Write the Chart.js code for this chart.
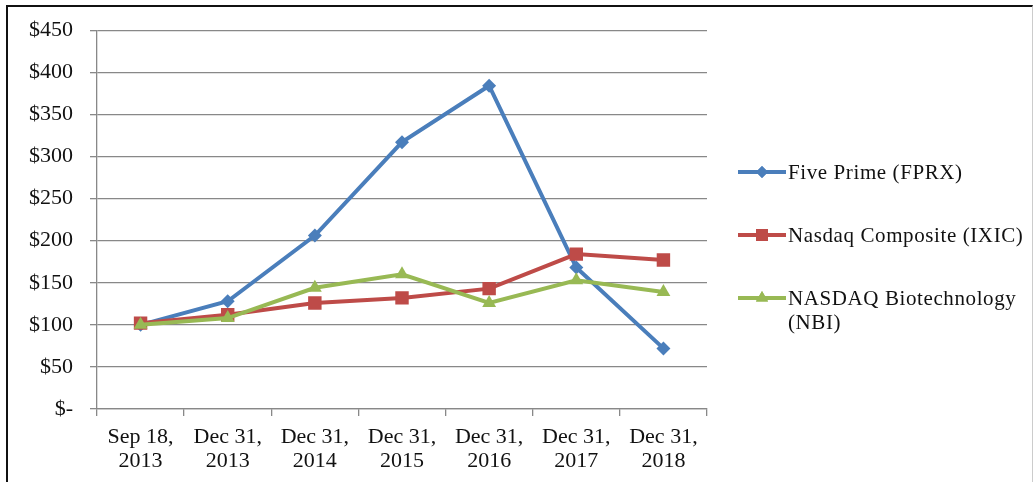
<!DOCTYPE html>
<html>
<head>
<meta charset="utf-8">
<script src="https://cdn.jsdelivr.net/npm/chart.js@4.4.1/dist/chart.umd.min.js"></script>
<style>
  html, body { margin: 0; padding: 0; background: #fff; }
  #wrap { position: relative; width: 1035px; height: 482px; overflow: hidden; }
  #frame { position: absolute; left: 6px; top: 5px; width: 1027px; height: 490px;
           border-left: 2px solid #111; border-top: 2px solid #111; border-right: 1px solid #ccc; box-sizing: border-box; }
  canvas { position: absolute; left: 0; top: 0; }
  .leg { position: absolute; left: 738px; font-family: "Liberation Serif", "Times New Roman", serif;
         font-size: 21px; color: #111; line-height: 24px; letter-spacing: 0.6px; }
  .leg .sw { position: absolute; left: 0; top: 12px; width: 48px; height: 0; }
  .leg .txt { position: absolute; left: 50px; top: 0; white-space: nowrap; }
</style>
</head>
<body>
<div id="wrap">
  <div id="frame"></div>
  <canvas id="c" width="1035" height="482"></canvas>
  <div id="legend"></div>
</div>
<script>
const categories = [["Sep 18,", "2013"], ["Dec 31,", "2013"], ["Dec 31,", "2014"], ["Dec 31,", "2015"], ["Dec 31,", "2016"], ["Dec 31,", "2017"], ["Dec 31,", "2018"]];
const seriesNames = ["Five Prime (FPRX)", "Nasdaq Composite (IXIC)", "NASDAQ Biotechnology (NBI)"];
const fprx = [100, 128, 206, 317, 384, 168, 72];
const ixic = [102, 112, 126, 132, 143, 184, 177];
const nbi  = [100, 108, 144, 160, 126, 153, 139];
const yTicks = [0, 50, 100, 150, 200, 250, 300, 350, 400, 450];

const colors = ["#4A7EBB", "#BE4B48", "#98B954"];
const styles = ["rectRot", "rect", "triangle"];
const radii = [7, 9.5, 8];

const datasets = [fprx, ixic, nbi].map((d, i) => ({
  label: seriesNames[i],
  data: d,
  order: 3 - i,
  borderColor: colors[i],
  backgroundColor: colors[i],
  borderWidth: 4,
  pointStyle: styles[i],
  pointRadius: radii[i],
  pointBorderWidth: 0,
  pointBackgroundColor: colors[i],
  pointBorderColor: colors[i],
  tension: 0,
  fill: false
}));

const fontFam = '"Liberation Serif", "Times New Roman", serif';

new Chart(document.getElementById('c'), {
  type: 'line',
  data: { labels: categories, datasets },
  options: {
    responsive: false,
    animation: false,
    devicePixelRatio: 1,
    layout: { padding: { left: 0, top: 30, right: 328, bottom: 0 } },
    plugins: { legend: { display: false }, tooltip: { enabled: false } },
    scales: {
      x: {
        type: 'category',
        offset: true,
        grid: { offset: true, drawOnChartArea: false, drawTicks: true, tickLength: 7, color: '#888', lineWidth: 1.3 },
        border: { color: '#888', width: 1.3 },
        ticks: { color: '#111', font: { family: fontFam, size: 22, lineHeight: 1.1 }, padding: 9, maxRotation: 0, autoSkip: false },
        afterFit: s => { s.height = 482 - 409; }
      },
      y: {
        min: 0, max: 450,
        afterBuildTicks: s => { s.ticks = yTicks.map(v => ({ value: v })); },
        grid: { color: '#888', lineWidth: 1.3, tickLength: 7 },
        border: { color: '#888', width: 1.3 },
        ticks: {
          color: '#111', font: { family: fontFam, size: 22 }, padding: 17,
          callback: v => v === 0 ? '$-' : '$' + v
        },
        afterFit: s => { s.width = 97; }
      }
    }
  }
});

// HTML legend
const legTops = [160, 223, 286];
const leg = document.getElementById('legend');
seriesNames.forEach((n, i) => {
  const d = document.createElement('div');
  d.className = 'leg';
  d.style.top = legTops[i] + 'px';
  const txt = i === 2 ? 'NASDAQ Biotechnology<br>(NBI)' : n;
  d.innerHTML = '<div class="sw" style="border-top:4px solid ' + colors[i] + ';margin-top:-2px"></div>' +
    '<canvas width="20" height="20" style="position:absolute;left:14px;top:2px"></canvas>' +
    '<div class="txt">' + txt + '</div>';
  leg.appendChild(d);
  const cv = d.querySelector('canvas');
  const ctx = cv.getContext('2d');
  ctx.fillStyle = colors[i];
  Chart.helpers.drawPoint(ctx, { pointStyle: styles[i], radius: radii[i] - 1, rotation: 0, borderWidth: 0 }, 10, 10);
  ctx.fill();
});
</script>
</body>
</html>
